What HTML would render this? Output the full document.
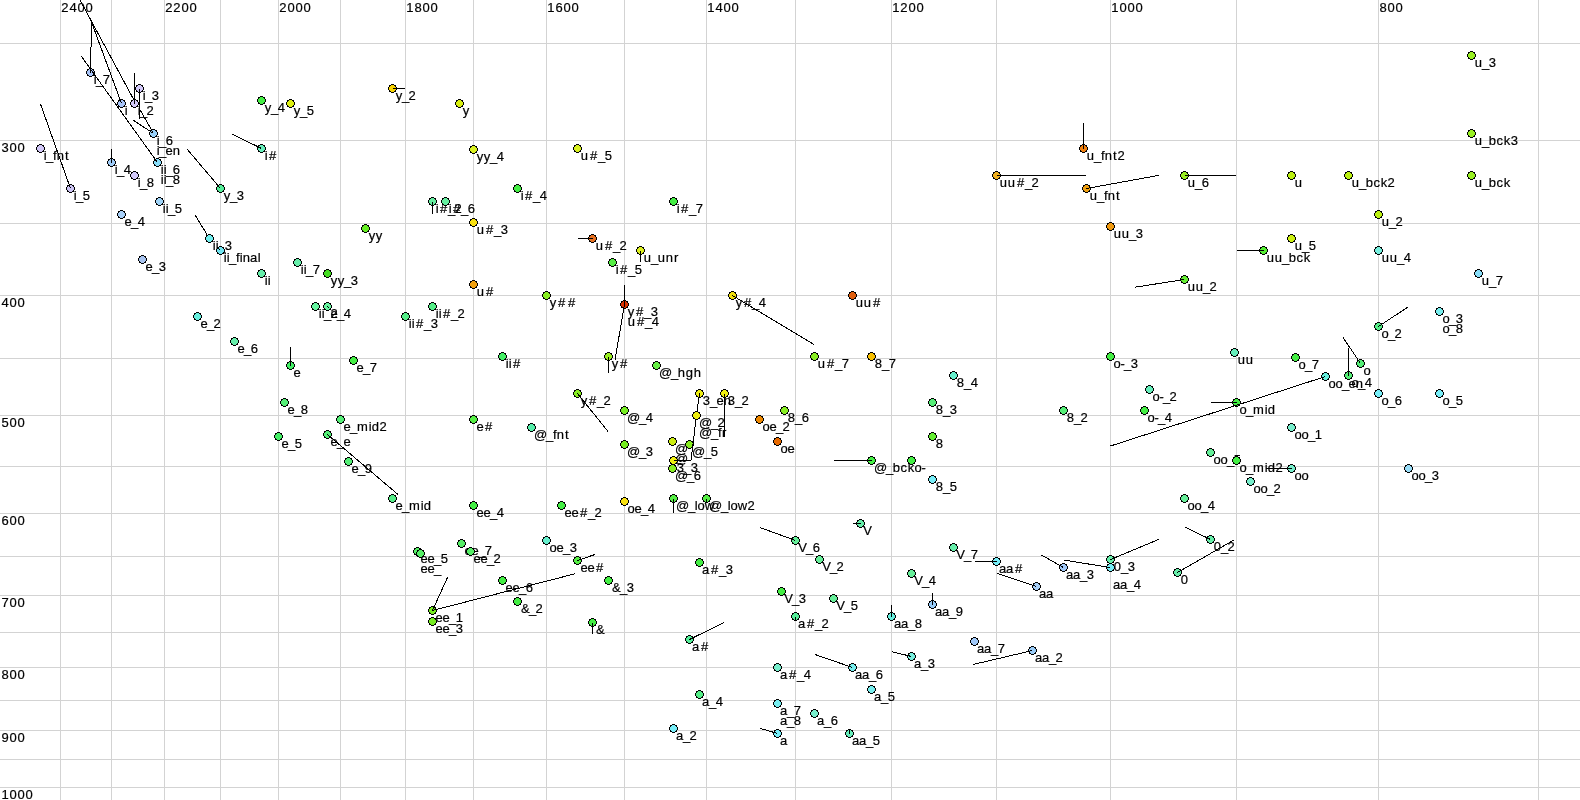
<!DOCTYPE html><html><head><meta charset="utf-8"><style>html,body{margin:0;padding:0;background:#fff;overflow:hidden}svg{display:block;will-change:transform}text{font-family:"Liberation Sans",sans-serif;fill:#000}</style></head><body>
<svg width="1580" height="800" viewBox="0 0 1580 800">
<rect width="1580" height="800" fill="#fff"/>
<path d="M1538.5 0V800M1378.5 0V800M1236.5 0V800M1110.5 0V800M996.5 0V800M891.5 0V800M795.5 0V800M706.5 0V800M624.5 0V800M546.5 0V800M473.5 0V800M405.5 0V800M340.5 0V800M278.5 0V800M220.5 0V800M164.5 0V800M111.5 0V800M60.5 0V800M0 43.5H1580M0 140.5H1580M0 223.5H1580M0 295.5H1580M0 358.5H1580M0 415.5H1580M0 466.5H1580M0 513.5H1580M0 556.5H1580M0 595.5H1580M0 632.5H1580M0 667.5H1580M0 700.5H1580M0 730.5H1580M0 759.5H1580M0 787.5H1580" stroke="#d3d3d3" stroke-width="1" fill="none" shape-rendering="crispEdges"/>
<g font-size="13" stroke="#000" stroke-width="0.2"><text x="1379.4 1387.4 1395.4" y="12">800</text><text x="1111.33 1119.4 1127.4 1135.4" y="12">1000</text><text x="892.33 900.24 908.4 916.4" y="12">1200</text><text x="707.33 715.4 723.4 731.4" y="12">1400</text><text x="547.33 555.4 563.4 571.4" y="12">1600</text><text x="406.33 414.4 422.4 430.4" y="12">1800</text><text x="279.24 287.4 295.4 303.4" y="12">2000</text><text x="165.24 173.24 181.4 189.4" y="12">2200</text><text x="61.24 69.4 77.4 85.4" y="12">2400</text><text x="1.52 9.5 17.5" y="152">300</text><text x="1.5 9.5 17.5" y="307">400</text><text x="1.45 9.5 17.5" y="427">500</text><text x="1.5 9.5 17.5" y="525">600</text><text x="1.48 9.5 17.5" y="607">700</text><text x="1.5 9.5 17.5" y="679">800</text><text x="1.46 9.5 17.5" y="742">900</text><text x="1.43 9.5 17.5 25.5" y="799">1000</text></g>
<defs><g id="c"><path d="M-1 -3h3v1h-3zM-2 -2h5v1h-5zM-3 -1h7v3h-7zM-2 2h5v1h-5zM-1 3h3v1h-3z"/><path d="M-1 -4h3v1h-3zM-3 -3h2v1h-2zM2 -3h2v1h-2zM-3 -2h1v1h-1zM3 -2h1v1h-1zM-4 -1h1v3h-1zM4 -1h1v3h-1zM-3 2h1v1h-1zM3 2h1v1h-1zM-3 3h2v1h-2zM2 3h2v1h-2zM-1 4h3v1h-3z" fill="#000"/></g></defs>
<g font-size="13" stroke="#000" stroke-width="0.2"><text x="43.73 45.91 52.96 56.71 65.01" y="160.0">i_fnt</text><text x="73.73 75.91 82.65" y="200.0">i_5</text><text x="93.73 95.91 102.68" y="84.0">i_7</text><text x="124.73" y="115.0">i</text><text x="137.73 139.91 146.54" y="115.0">i_2</text><text x="142.73 144.91 151.72" y="100.0">i_3</text><text x="156.73 158.91 165.7" y="145.0">i_6</text><text x="156.73 158.91 165.6 172.71" y="155.3">i_en</text><text x="114.73 116.91 123.7" y="174.0">i_4</text><text x="137.73 139.91 146.7" y="187.0">i_8</text><text x="160.73 163.73 165.91 172.7" y="174.0">ii_6</text><text x="160.73 163.73 165.91 172.7" y="184.3">ii_8</text><text x="162.73 165.73 167.91 174.65" y="213.0">ii_5</text><text x="124.6 130.91 137.7" y="226.0">e_4</text><text x="145.6 151.91 158.72" y="271.0">e_3</text><text x="212.73 215.73 217.91 224.72" y="250.0">ii_3</text><text x="223.73 226.73 228.91 235.96 239.73 242.71 250.1 257.72" y="262.0">ii_final</text><text x="223.8 229.91 236.72" y="200.0">y_3</text><text x="264.73 268.92" y="160.0">i#</text><text x="264.8 270.91 277.7" y="112.0">y_4</text><text x="293.8 299.91 306.65" y="115.0">y_5</text><text x="300.73 303.73 305.91 312.68" y="274.0">ii_7</text><text x="264.73 267.73" y="285.0">ii</text><text x="330.8 337.8 343.91 350.72" y="285.0">yy_3</text><text x="368.8 375.8" y="240.0">yy</text><text x="318.73 321.73 323.91 330.54" y="318.0">ii_2</text><text x="330.6 336.91 343.7" y="318.0">e_4</text><text x="200.6 206.91 213.54" y="328.0">e_2</text><text x="237.6 243.91 250.7" y="353.0">e_6</text><text x="293.6" y="377.0">e</text><text x="356.6 362.91 369.68" y="372.0">e_7</text><text x="287.6 293.91 300.7" y="414.0">e_8</text><text x="343.6 349.91 356.96 368.73 371.63 379.54" y="431.0">e_mid2</text><text x="281.6 287.91 294.65" y="448.0">e_5</text><text x="330.6 336.91 343.6" y="446.0">e_e</text><text x="351.6 357.91 364.66" y="473.0">e_9</text><text x="395.6 401.91 408.96 420.73 423.63" y="510.0">e_mid</text><text x="476.6 484.92" y="431.0">e#</text><text x="395.8 401.91 408.54" y="100.0">y_2</text><text x="462.8" y="115.0">y</text><text x="476.8 483.8 489.91 496.7" y="161.0">yy_4</text><text x="580.66 589.92 597.91 604.65" y="160.0">u#_5</text><text x="520.73 524.92 532.91 539.7" y="200.0">i#_4</text><text x="435.73 439.92 447.91 454.54" y="213.0">i#_2</text><text x="448.73 452.92 460.91 467.7" y="213.0">i#_6</text><text x="476.66 485.92 493.91 500.72" y="234.0">u#_3</text><text x="595.66 604.92 612.91 619.54" y="250.0">u#_2</text><text x="408.73 411.73 415.92 423.91 430.72" y="328.0">ii#_3</text><text x="435.73 438.73 442.92 450.91 457.54" y="318.0">ii#_2</text><text x="476.66 485.92" y="296.0">u#</text><text x="549.8 557.92 567.92" y="307.0">y##</text><text x="505.73 508.73 512.92" y="368.0">ii#</text><text x="615.73 619.92 627.91 634.65" y="274.0">i#_5</text><text x="627.8 635.92 643.91 650.72" y="316.0">y#_3</text><text x="627.66 636.92 644.91 651.7" y="326.3">u#_4</text><text x="611.8 619.92" y="368.0">y#</text><text x="658.93 670.91 677.69 685.63 693.69" y="377.0">@_hgh</text><text x="643.66 650.91 657.66 665.71 674.02" y="262.0">u_unr</text><text x="676.73 680.92 688.91 695.68" y="213.0">i#_7</text><text x="735.8 743.92 751.91 758.7" y="307.0">y#_4</text><text x="855.66 863.66 872.92" y="307.0">uu#</text><text x="817.66 826.92 834.91 841.68" y="368.0">u#_7</text><text x="874.7 881.91 888.68" y="368.0">8_7</text><text x="956.7 963.91 970.7" y="387.0">8_4</text><text x="935.7 942.91 949.72" y="414.0">8_3</text><text x="787.7 794.91 801.7" y="422.0">8_6</text><text x="762.56 769.6 775.91 782.54" y="431.0">oe_2</text><text x="780.56 787.6" y="453.0">oe</text><text x="935.7" y="448.0">8</text><text x="873.93 885.91 892.76 900.4 907.8" y="472.0">@_bck</text><text x="914.56 921.5" y="472.0">o-</text><text x="935.7 942.91 949.65" y="491.0">8_5</text><text x="580.8 588.92 596.91 603.54" y="405.0">y#_2</text><text x="626.93 638.91 645.7" y="422.0">@_4</text><text x="533.93 545.91 552.96 556.71 565.01" y="439.0">@_fnt</text><text x="626.93 638.91 645.72" y="456.0">@_3</text><text x="702.72 709.91 716.6 723.71" y="405.0">3_en</text><text x="727.72 734.91 741.54" y="405.0">3_2</text><text x="698.93 710.91 717.54" y="427.0">@_2</text><text x="698.93 710.91 717.96 722.02" y="437.3">@_fr</text><text x="674.93" y="453.0">@</text><text x="674.93" y="463.3">@</text><text x="691.93 703.91 710.65" y="456.0">@_5</text><text x="676.72 683.91 690.72" y="472.0">3_3</text><text x="674.93 686.91 693.7" y="480.0">@_6</text><text x="675.93 687.91 694.72 697.56 704.71" y="510.0">@_low</text><text x="708.93 720.91 727.72 730.56 737.71 747.54" y="510.0">@_low2</text><text x="564.6 571.6 579.92 587.91 594.54" y="517.0">ee#_2</text><text x="627.56 634.6 640.91 647.7" y="513.0">oe_4</text><text x="549.56 556.6 562.91 569.72" y="552.0">oe_3</text><text x="580.6 587.6 595.92" y="572.0">ee#</text><text x="611.91 619.91 626.72" y="592.0">&amp;_3</text><text x="702.1 710.92 718.91 725.72" y="574.0">a#_3</text><text x="476.6 483.6 489.91 496.7" y="517.0">ee_4</text><text x="464.6 471.6 477.91 484.68" y="555.0">ee_7</text><text x="473.6 480.6 486.91 493.54" y="563.0">ee_2</text><text x="420.6 427.6 433.91 440.65" y="563.0">ee_5</text><text x="420.6 427.6 433.91" y="573.3">ee_</text><text x="505.6 512.6 518.91 525.7" y="592.0">ee_6</text><text x="520.91 528.91 535.54" y="613.0">&amp;_2</text><text x="435.6 442.6 448.91 455.63" y="622.0">ee_1</text><text x="435.6 442.6 448.91 455.72" y="633.0">ee_3</text><text x="595.91" y="634.0">&amp;</text><text x="798.27 805.91 812.7" y="552.0">V_6</text><text x="863.27" y="535.0">V</text><text x="956.27 963.91 970.68" y="559.0">V_7</text><text x="822.27 829.91 836.54" y="571.0">V_2</text><text x="914.27 921.91 928.7" y="585.0">V_4</text><text x="784.27 791.91 798.72" y="603.0">V_3</text><text x="836.27 843.91 850.65" y="610.0">V_5</text><text x="798.1 806.92 814.91 821.54" y="628.0">a#_2</text><text x="894.1 901.1 907.91 914.7" y="628.0">aa_8</text><text x="935.1 942.1 948.91 955.66" y="616.0">aa_9</text><text x="692.1 700.92" y="651.0">a#</text><text x="780.1 788.92 796.91 803.7" y="679.0">a#_4</text><text x="855.1 862.1 868.91 875.7" y="679.0">aa_6</text><text x="702.1 708.91 715.7" y="706.0">a_4</text><text x="874.1 880.91 887.65" y="701.0">a_5</text><text x="780.1 786.91 793.68" y="715.0">a_7</text><text x="780.1 786.91 793.7" y="725.3">a_8</text><text x="817.1 823.91 830.7" y="725.0">a_6</text><text x="676.1 682.91 689.54" y="740.0">a_2</text><text x="780.1" y="745.0">a</text><text x="852.1 859.1 865.91 872.65" y="745.0">aa_5</text><text x="977.1 984.1 990.91 997.68" y="653.0">aa_7</text><text x="914.1 920.91 927.72" y="668.0">a_3</text><text x="1035.1 1042.1 1048.91 1055.54" y="662.0">aa_2</text><text x="999.1 1006.1 1014.92" y="573.0">aa#</text><text x="1066.1 1073.1 1079.91 1086.72" y="579.0">aa_3</text><text x="1039.1 1046.1" y="598.0">aa</text><text x="1113.7 1120.91 1127.72" y="571.0">0_3</text><text x="1113.1 1120.1 1126.91 1133.7" y="589.3">aa_4</text><text x="1180.7" y="584.0">0</text><text x="1213.7 1220.91 1227.54" y="551.0">0_2</text><text x="999.66 1007.66 1016.92 1024.91 1031.54" y="187.0">uu#_2</text><text x="1086.66 1093.91 1100.96 1104.71 1113.01 1117.54" y="160.0">u_fnt2</text><text x="1089.66 1096.91 1103.96 1107.71 1116.01" y="200.0">u_fnt</text><text x="1187.66 1194.91 1201.7" y="187.0">u_6</text><text x="1113.66 1121.66 1128.91 1135.72" y="238.0">uu_3</text><text x="1187.66 1195.66 1202.91 1209.54" y="291.0">uu_2</text><text x="1266.66 1274.66 1281.91 1288.76 1296.4 1303.8" y="262.0">uu_bck</text><text x="1294.66 1301.91 1308.65" y="250.0">u_5</text><text x="1294.66" y="187.0">u</text><text x="1351.66 1358.91 1365.76 1373.4 1380.8 1387.54" y="187.0">u_bck2</text><text x="1474.66 1481.91 1488.76 1496.4 1503.8" y="187.0">u_bck</text><text x="1474.66 1481.91 1488.72" y="67.0">u_3</text><text x="1474.66 1481.91 1488.76 1496.4 1503.8 1510.72" y="145.0">u_bck3</text><text x="1381.66 1388.91 1395.54" y="226.0">u_2</text><text x="1381.66 1389.66 1396.91 1403.7" y="262.0">uu_4</text><text x="1481.66 1488.91 1495.68" y="285.0">u_7</text><text x="1442.56 1448.91 1455.72" y="323.0">o_3</text><text x="1442.56 1448.91 1455.7" y="333.3">o_8</text><text x="1381.56 1387.91 1394.54" y="338.0">o_2</text><text x="1298.56 1304.91 1311.68" y="369.0">o_7</text><text x="1363.56" y="375.0">o</text><text x="1328.56 1335.56 1341.91 1348.6 1355.71" y="388.0">oo_en</text><text x="1351.56 1357.91 1364.7" y="387.0">o_4</text><text x="1381.56 1387.91 1394.7" y="405.0">o_6</text><text x="1442.56 1448.91 1455.65" y="405.0">o_5</text><text x="1113.56 1120.5 1123.91 1130.72" y="368.0">o-_3</text><text x="1237.66 1245.66" y="364.0">uu</text><text x="1152.56 1159.5 1162.91 1169.54" y="401.0">o-_2</text><text x="1066.7 1073.91 1080.54" y="422.0">8_2</text><text x="1147.56 1154.5 1157.91 1164.7" y="422.0">o-_4</text><text x="1239.56 1245.91 1252.96 1264.73 1267.63" y="414.0">o_mid</text><text x="1294.56 1301.56 1307.91 1314.63" y="439.0">oo_1</text><text x="1213.56 1220.56 1226.91 1233.65" y="464.0">oo_5</text><text x="1239.56 1245.91 1252.96 1264.73 1267.63 1275.54" y="472.0">o_mid2</text><text x="1294.56 1301.56" y="480.0">oo</text><text x="1411.56 1418.56 1424.91 1431.72" y="480.0">oo_3</text><text x="1253.56 1260.56 1266.91 1273.54" y="493.0">oo_2</text><text x="1187.56 1194.56 1200.91 1207.7" y="510.0">oo_4</text></g>
<g shape-rendering="crispEdges"><use href="#c" x="40" y="148" fill="#d2c8f8"/><use href="#c" x="70" y="188" fill="#ccc4f4"/><use href="#c" x="90" y="72" fill="#a8c4f8"/><use href="#c" x="121" y="103" fill="#a8c4f8"/><use href="#c" x="134" y="103" fill="#d2c8f8"/><use href="#c" x="139" y="88" fill="#d2c8f8"/><use href="#c" x="153" y="133" fill="#98d0f8"/><use href="#c" x="111" y="162" fill="#a0ccf8"/><use href="#c" x="134" y="175" fill="#d2c8f8"/><use href="#c" x="157" y="162" fill="#88dcf8"/><use href="#c" x="159" y="201" fill="#a0d4f8"/><use href="#c" x="121" y="214" fill="#a8d0f8"/><use href="#c" x="142" y="259" fill="#a8c4f0"/><use href="#c" x="209" y="238" fill="#70eeee"/><use href="#c" x="220" y="250" fill="#70e4f0"/><use href="#c" x="220" y="188" fill="#55ee99"/><use href="#c" x="261" y="148" fill="#66eebb"/><use href="#c" x="261" y="100" fill="#44ee44"/><use href="#c" x="290" y="103" fill="#ddf011"/><use href="#c" x="297" y="262" fill="#66eeaa"/><use href="#c" x="261" y="273" fill="#66eeaa"/><use href="#c" x="327" y="273" fill="#44dd22"/><use href="#c" x="365" y="228" fill="#66ee22"/><use href="#c" x="315" y="306" fill="#66f5a0"/><use href="#c" x="327" y="306" fill="#66f5a0"/><use href="#c" x="197" y="316" fill="#66eedd"/><use href="#c" x="234" y="341" fill="#66eeaa"/><use href="#c" x="290" y="365" fill="#44ee66"/><use href="#c" x="353" y="360" fill="#44ee44"/><use href="#c" x="284" y="402" fill="#55ee77"/><use href="#c" x="340" y="419" fill="#55ee77"/><use href="#c" x="278" y="436" fill="#44ee66"/><use href="#c" x="327" y="434" fill="#55ee77"/><use href="#c" x="348" y="461" fill="#55ee77"/><use href="#c" x="392" y="498" fill="#55ee88"/><use href="#c" x="473" y="419" fill="#55ee44"/><use href="#c" x="392" y="88" fill="#f8d400"/><use href="#c" x="459" y="103" fill="#d8f010"/><use href="#c" x="473" y="149" fill="#d8f020"/><use href="#c" x="577" y="148" fill="#d8f020"/><use href="#c" x="517" y="188" fill="#44ee44"/><use href="#c" x="432" y="201" fill="#66eea0"/><use href="#c" x="445" y="201" fill="#66eea0"/><use href="#c" x="473" y="222" fill="#f8e010"/><use href="#c" x="592" y="238" fill="#e87020"/><use href="#c" x="405" y="316" fill="#55ee88"/><use href="#c" x="432" y="306" fill="#55ee88"/><use href="#c" x="473" y="284" fill="#f0a010"/><use href="#c" x="546" y="295" fill="#88ee22"/><use href="#c" x="502" y="356" fill="#44ee66"/><use href="#c" x="612" y="262" fill="#55ee44"/><use href="#c" x="624" y="304" fill="#dd3300"/><use href="#c" x="608" y="356" fill="#99ee22"/><use href="#c" x="656" y="365" fill="#66ee44"/><use href="#c" x="640" y="250" fill="#ddf020"/><use href="#c" x="673" y="201" fill="#44ee44"/><use href="#c" x="732" y="295" fill="#f0e010"/><use href="#c" x="852" y="295" fill="#e06010"/><use href="#c" x="814" y="356" fill="#88ee22"/><use href="#c" x="871" y="356" fill="#f8c000"/><use href="#c" x="953" y="375" fill="#66eecc"/><use href="#c" x="932" y="402" fill="#55ee77"/><use href="#c" x="784" y="410" fill="#88ee22"/><use href="#c" x="759" y="419" fill="#ee8800"/><use href="#c" x="777" y="441" fill="#e86a00"/><use href="#c" x="932" y="436" fill="#66ee33"/><use href="#c" x="871" y="460" fill="#44ee44"/><use href="#c" x="911" y="460" fill="#44ee44"/><use href="#c" x="932" y="479" fill="#77eef8"/><use href="#c" x="577" y="393" fill="#88ee22"/><use href="#c" x="624" y="410" fill="#77ee22"/><use href="#c" x="531" y="427" fill="#55eeaa"/><use href="#c" x="624" y="444" fill="#77ee22"/><use href="#c" x="699" y="393" fill="#eeee11"/><use href="#c" x="724" y="393" fill="#eeee11"/><use href="#c" x="696" y="415" fill="#eeee11"/><use href="#c" x="672" y="441" fill="#ccee11"/><use href="#c" x="689" y="444" fill="#88ee22"/><use href="#c" x="673" y="460" fill="#f0f010"/><use href="#c" x="672" y="468" fill="#88ee22"/><use href="#c" x="673" y="498" fill="#55ee44"/><use href="#c" x="706" y="498" fill="#55ee44"/><use href="#c" x="561" y="505" fill="#44ee44"/><use href="#c" x="624" y="501" fill="#f8e010"/><use href="#c" x="546" y="540" fill="#66eecc"/><use href="#c" x="577" y="560" fill="#55ee44"/><use href="#c" x="608" y="580" fill="#44ee44"/><use href="#c" x="699" y="562" fill="#44ee44"/><use href="#c" x="473" y="505" fill="#44ee44"/><use href="#c" x="461" y="543" fill="#55ee66"/><use href="#c" x="470" y="551" fill="#55ee66"/><use href="#c" x="417" y="551" fill="#55ee66"/><use href="#c" x="420" y="553" fill="#55ee66"/><use href="#c" x="502" y="580" fill="#44ee44"/><use href="#c" x="517" y="601" fill="#44ee44"/><use href="#c" x="432" y="610" fill="#77ee22"/><use href="#c" x="432" y="621" fill="#77ee22"/><use href="#c" x="592" y="622" fill="#44ee44"/><use href="#c" x="795" y="540" fill="#66ee99"/><use href="#c" x="860" y="523" fill="#66eeaa"/><use href="#c" x="953" y="547" fill="#66eeaa"/><use href="#c" x="819" y="559" fill="#66ee99"/><use href="#c" x="911" y="573" fill="#66ee99"/><use href="#c" x="781" y="591" fill="#44ee44"/><use href="#c" x="833" y="598" fill="#66ee99"/><use href="#c" x="795" y="616" fill="#55ee99"/><use href="#c" x="891" y="616" fill="#66eedd"/><use href="#c" x="932" y="604" fill="#99ccf8"/><use href="#c" x="689" y="639" fill="#55ee99"/><use href="#c" x="777" y="667" fill="#77eecc"/><use href="#c" x="852" y="667" fill="#77eeee"/><use href="#c" x="699" y="694" fill="#55ee88"/><use href="#c" x="871" y="689" fill="#77eeee"/><use href="#c" x="777" y="703" fill="#77eef0"/><use href="#c" x="814" y="713" fill="#77eecc"/><use href="#c" x="673" y="728" fill="#77eef8"/><use href="#c" x="777" y="733" fill="#77eef8"/><use href="#c" x="849" y="733" fill="#66eebb"/><use href="#c" x="974" y="641" fill="#a0c8f8"/><use href="#c" x="911" y="656" fill="#77eedd"/><use href="#c" x="1032" y="650" fill="#99ccf8"/><use href="#c" x="996" y="561" fill="#77eef8"/><use href="#c" x="1063" y="567" fill="#a0c8f8"/><use href="#c" x="1036" y="586" fill="#a8d0f8"/><use href="#c" x="1110" y="559" fill="#66eeaa"/><use href="#c" x="1110" y="567" fill="#77eef8"/><use href="#c" x="1177" y="572" fill="#66eeaa"/><use href="#c" x="1210" y="539" fill="#66eeaa"/><use href="#c" x="996" y="175" fill="#f0b020"/><use href="#c" x="1083" y="148" fill="#f08010"/><use href="#c" x="1086" y="188" fill="#f0a010"/><use href="#c" x="1184" y="175" fill="#99ee22"/><use href="#c" x="1110" y="226" fill="#f09a10"/><use href="#c" x="1184" y="279" fill="#66ee33"/><use href="#c" x="1263" y="250" fill="#55ee33"/><use href="#c" x="1291" y="238" fill="#ccf011"/><use href="#c" x="1291" y="175" fill="#bbf011"/><use href="#c" x="1348" y="175" fill="#bbf011"/><use href="#c" x="1471" y="175" fill="#99f022"/><use href="#c" x="1471" y="55" fill="#99f022"/><use href="#c" x="1471" y="133" fill="#99f022"/><use href="#c" x="1378" y="214" fill="#bbf011"/><use href="#c" x="1378" y="250" fill="#77eedd"/><use href="#c" x="1478" y="273" fill="#88ddf8"/><use href="#c" x="1439" y="311" fill="#77eeee"/><use href="#c" x="1378" y="326" fill="#55ee88"/><use href="#c" x="1295" y="357" fill="#44ee44"/><use href="#c" x="1360" y="363" fill="#55ee77"/><use href="#c" x="1325" y="376" fill="#66eedd"/><use href="#c" x="1348" y="375" fill="#55ee77"/><use href="#c" x="1378" y="393" fill="#77eef8"/><use href="#c" x="1439" y="393" fill="#77eef8"/><use href="#c" x="1110" y="356" fill="#44ee44"/><use href="#c" x="1234" y="352" fill="#66eebb"/><use href="#c" x="1149" y="389" fill="#66eebb"/><use href="#c" x="1063" y="410" fill="#55ee77"/><use href="#c" x="1144" y="410" fill="#44ee44"/><use href="#c" x="1236" y="402" fill="#44ee44"/><use href="#c" x="1291" y="427" fill="#77eecc"/><use href="#c" x="1210" y="452" fill="#66ee99"/><use href="#c" x="1236" y="460" fill="#44ee44"/><use href="#c" x="1291" y="468" fill="#77eecc"/><use href="#c" x="1408" y="468" fill="#99ddf8"/><use href="#c" x="1250" y="481" fill="#77eecc"/><use href="#c" x="1184" y="498" fill="#66ee99"/></g>
<path d="M90.5 72.5L90.5 47M91.5 46.5L91.5 22M91.5 22L121.5 103.5M80 0L134.5 101M81.5 56.5L157.5 162.5M134.5 103.5L134.5 73M139.5 88.5L139.5 119M153.5 133.5L139.8 109.4M153.5 133.5L133 120M70.5 188.5L40.5 104M111.5 162.5L111.5 149M220.5 188.5L187 149M261.5 148.5L232 134M207 234.5L195 215M220.5 250.5L217.5 247.5M327.5 306.5L329.5 308.5M290.5 365.5L290.5 347M327.5 434.5L398 494.5M392.5 88.5L405 88.5M432.5 201.5L432.5 214M592.5 238.5L578 238.5M640.5 250.5L640.5 261.5M624.5 304.5L624.5 285M624.5 304.5L615 360M608.5 356.5L608.5 372.5M732.5 295.5L814 344.5M577.5 393.5L608 431.5M699.5 393.5L696.5 415.5M724.5 393.5L724.5 436.5M696.5 415.5L691 459.8M673.5 460.5L691 460.5M673.5 498.5L673.5 513M706.5 498.5L706.5 502M577.5 560.5L595 554.5M432.5 610.5L447.5 577.5M432.5 610.5L575 573.8M592.5 622.5L592.5 633.5M795.5 540.5L760 527.5M860.5 523.5L853 523.5M871.5 460.5L834 460.5M996.5 561.5L975 561.5M1063.5 567.5L1041.5 555M1036.5 586.5L997 573.3M1110.5 567.5L1064.5 560.2M1110.5 559.5L1159 539.3M1177.5 572.5L1234 540M1210.5 539.5L1185 527M932.5 604.5L932.5 593M891.5 616.5L891.5 605M795.5 616.5L795.5 620M689.5 639.5L724 622.5M852.5 667.5L815 654.5M911.5 656.5L892 651.7M1032.5 650.5L973 664.5M777.5 733.5L760 728.3M849.5 733.5L849.5 730M1083.5 148.5L1083.5 123.3M996.5 175.5L1086 175.5M1086.5 188.5L1159 175.3M1184.5 175.5L1236 175.5M1184.5 279.5L1135 287.2M1263.5 250.5L1236.5 250.5M1378.5 326.5L1408 307M1360.5 363.5L1343 337.4M1348.5 375.5L1348.5 347.6M1325.5 376.5L1110.5 446M1236.5 402.5L1211 402.5M1291.5 468.5L1266 468.5" stroke="#000" stroke-width="1" fill="none" shape-rendering="crispEdges"/>
<g shape-rendering="crispEdges"><use href="#c" x="209" y="238" fill="#70eeee"/><use href="#c" x="696" y="415" fill="#eeee11"/></g>
</svg></body></html>
